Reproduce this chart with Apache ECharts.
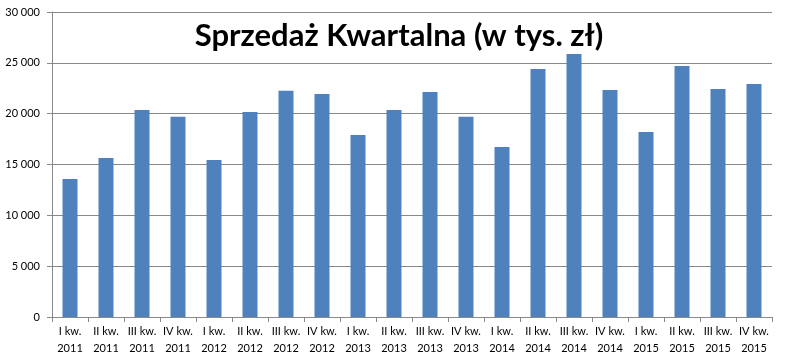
<!DOCTYPE html>
<html><head><meta charset="utf-8">
<script src="https://cdn.jsdelivr.net/npm/echarts@6/dist/echarts.min.js"></script>
<style>html,body{margin:0;padding:0;background:#fff}#c{width:786px;height:360px}</style>
</head><body><div id="c"></div>
<script>
const categories = ["I kw.\n2011","II kw.\n2011","III kw.\n2011","IV kw.\n2011","I kw.\n2012","II kw.\n2012","III kw.\n2012","IV kw.\n2012","I kw.\n2013","II kw.\n2013","III kw.\n2013","IV kw.\n2013","I kw.\n2014","II kw.\n2014","III kw.\n2014","IV kw.\n2014","I kw.\n2015","II kw.\n2015","III kw.\n2015","IV kw.\n2015"];
const sales = [13570,15630,20350,19700,15440,20160,22250,21930,17900,20350,22120,19700,16720,24390,25860,22320,18190,24680,22420,22910];
const titleText = "Sprzedaż Kwartalna (w tys. zł)";
const chart = echarts.init(document.getElementById('c'));
chart.setOption({
  animation:false,
  title:{text:titleText,left:394,top:15,textAlign:'center',textStyle:{fontFamily:'Lato',fontWeight:'bold',fontSize:31,color:'#000'}},
  grid:{left:52,right:14,top:12,bottom:43},
  xAxis:{type:'category',data:categories,
    axisLine:{lineStyle:{color:'#888',width:1}},
    axisTick:{show:true,alignWithLabel:false,length:5,lineStyle:{color:'#888'}},
    axisLabel:{interval:0,fontFamily:'Lato',fontSize:11,color:'#000',lineHeight:17,margin:6}},
  yAxis:{type:'value',min:0,max:30000,interval:5000,
    axisLine:{show:true,lineStyle:{color:'#888'}},
    axisTick:{show:true,length:5,lineStyle:{color:'#888'}},
    splitLine:{lineStyle:{color:'#888',width:1}},
    axisLabel:{fontFamily:'Lato',fontSize:11,color:'#000',margin:12,
      formatter:v=>String(v).replace(/\B(?=(\d{3})+(?!\d))/g,' ')}},
  series:[{type:'bar',data:sales,barWidth:15,itemStyle:{color:'#4F81BD'}}]
});
</script></body></html>
